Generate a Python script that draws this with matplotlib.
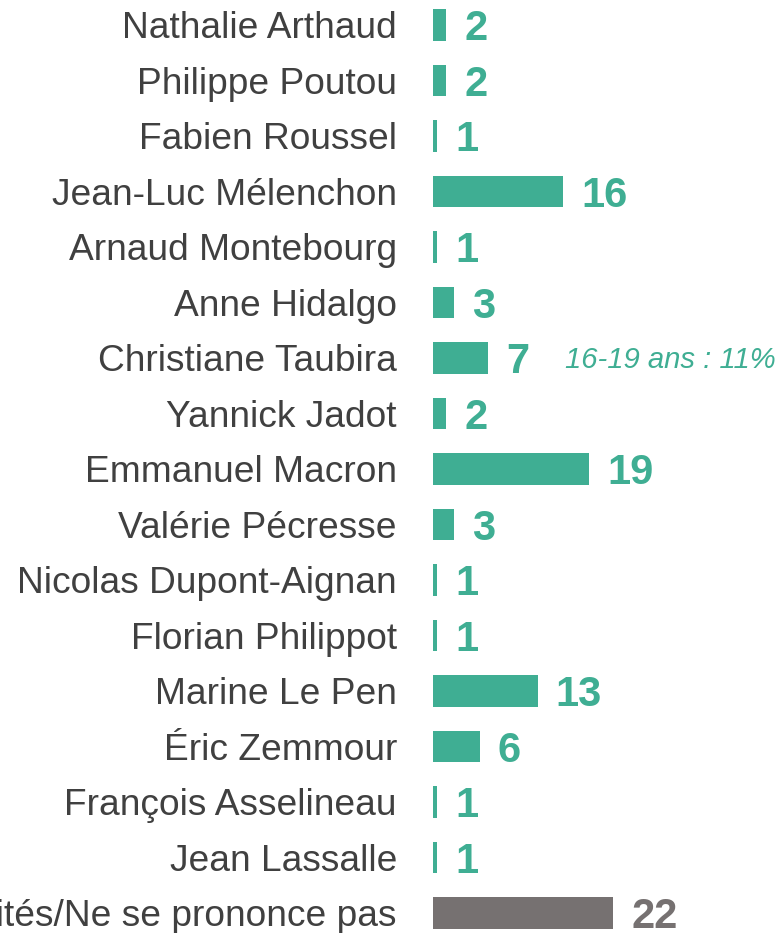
import matplotlib
matplotlib.use("Agg")
import matplotlib.pyplot as plt

plt.rcParams['font.family'] = ['Liberation Sans', 'DejaVu Sans']

# données (intentions de vote, %)
candidats = ['Nathalie Arthaud', 'Philippe Poutou', 'Fabien Roussel', 'Jean-Luc Mélenchon',
             'Arnaud Montebourg', 'Anne Hidalgo', 'Christiane Taubira', 'Yannick Jadot',
             'Emmanuel Macron', 'Valérie Pécresse', 'Nicolas Dupont-Aignan', 'Florian Philippot',
             'Marine Le Pen', 'Éric Zemmour', 'François Asselineau', 'Jean Lassalle',
             'Autres personnalités/Ne se prononce pas']
valeurs = [1.6, 1.6, 0.5, 15.9, 0.5, 2.6, 6.7, 1.6, 19.1, 2.6, 0.5, 0.5, 12.8, 5.7, 0.5, 0.5, 22.0]
etiquettes = ['2', '2', '1', '16', '1', '3', '7', '2', '19', '3', '1', '1', '13', '6', '1', '1', '22']
note_texte = '16-19 ans : 11%'
note_ligne = 6
note_x = 16.1

vert = '#3FAE93'
gris = '#767171'
couleurs = [vert] * (len(candidats) - 1) + [gris]

W, H = 777, 933
fig = plt.figure(figsize=(W / 100, H / 100), dpi=100)
x0 = 433
ax = fig.add_axes([x0 / W, 0, (W - x0) / W, 1])

px_par_unite = 8.18
pas = 55.5
ax.set_xlim(0, (W - x0) / px_par_unite)
ax.set_ylim(16 + (H - 913) / pas, -25 / pas)

pos = list(range(len(candidats)))
ax.barh(pos, valeurs, height=0.56, color=couleurs, edgecolor='none')

# valeurs en gras au bout des barres
for i, (v, lab, c) in enumerate(zip(valeurs, etiquettes, couleurs)):
    ax.annotate(lab, xy=(v, i), xytext=(13, -3), textcoords='offset points',
                ha='left', va='center', fontsize=30, fontweight='bold', color=c)

ax.annotate(note_texte, xy=(note_x, note_ligne), xytext=(0, -1.5), textcoords='offset points',
            ha='left', va='center', fontsize=21.1, style='italic', color=vert)

ax.set_yticks(pos)
ax.set_yticklabels(candidats, fontsize=26.7, color='#404040')
ax.tick_params(axis='y', length=0, pad=26)
ax.set_xticks([])
for s in ax.spines.values():
    s.set_visible(False)

fig.savefig('out.png', dpi=100)
